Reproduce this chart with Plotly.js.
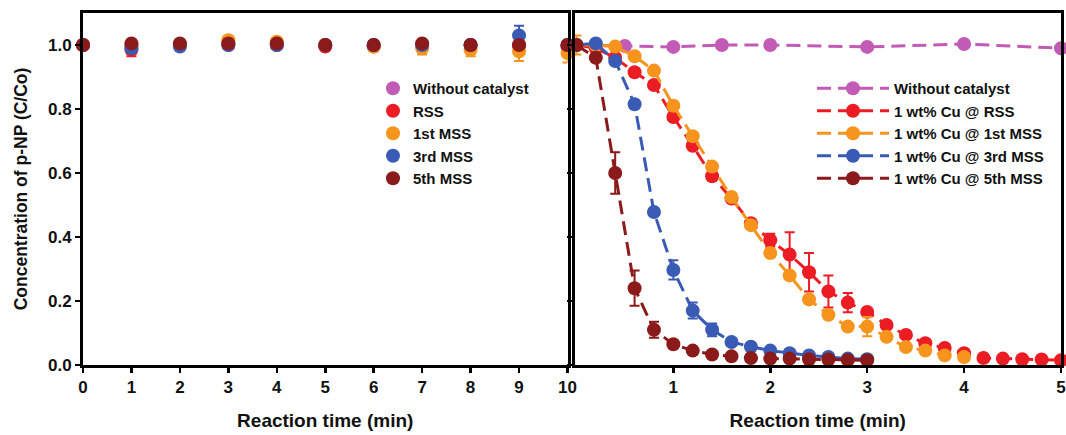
<!DOCTYPE html>
<html>
<head>
<meta charset="utf-8">
<script src="https://cdn.plot.ly/plotly-3.0.1.min.js"></script>
<style>html,body{margin:0;padding:0;background:#fff;}#chart{width:1066px;height:435px;}</style>
</head>
<body>
<div id="chart"></div>
<script>
// ---------- Left panel (supports only) ----------
const leftTime = [0, 1, 2, 3, 4, 5, 6, 7, 8, 9, 10];
const leftNames = ["Without catalyst", "RSS", "1st MSS", "3rd MSS", "5th MSS"];
const leftWithout = [1.0, 1.0, 1.0, 1.005, 1.0, 1.0, 1.0, 1.0, 1.0, 1.0, 1.0];
const leftWithoutErr = [0, 0.005, 0.005, 0.005, 0.005, 0.005, 0.005, 0.005, 0.005, 0.005, 0.005];
const leftRSS = [1.0, 0.985, 1.0, 1.0, 1.0, 0.995, 0.995, 1.0, 1.0, 1.0, 0.995];
const leftRSSErr = [0, 0.02, 0.01, 0.01, 0.01, 0.01, 0.01, 0.01, 0.01, 0.01, 0.01];
const left1st = [1.0, 1.0, 1.0, 1.015, 1.01, 1.0, 0.995, 0.99, 0.985, 0.98, 0.975];
const left1stErr = [0, 0.01, 0.01, 0.012, 0.012, 0.01, 0.01, 0.02, 0.02, 0.03, 0.03];
const left3rd = [1.0, 0.99, 0.995, 1.0, 1.0, 1.0, 1.0, 1.0, 1.0, 1.03, 1.0];
const left3rdErr = [0, 0.01, 0.01, 0.01, 0.01, 0.01, 0.01, 0.01, 0.01, 0.03, 0.01];
const left5th = [1.0, 1.005, 1.005, 1.005, 1.005, 1.0, 1.0, 1.005, 1.0, 1.0, 1.0];
const left5thErr = [0, 0.01, 0.01, 0.01, 0.01, 0.01, 0.01, 0.01, 0.01, 0.01, 0.01];

// ---------- Right panel (1 wt% Cu catalysts) ----------
const rightNames = ["Without catalyst", "1 wt% Cu @ RSS", "1 wt% Cu @ 1st MSS", "1 wt% Cu @ 3rd MSS", "1 wt% Cu @ 5th MSS"];
const noCatTime = [0, 0.5, 1, 1.5, 2, 3, 4, 5];
const noCatConc = [1.0, 0.997, 0.994, 1.0, 1.0, 0.994, 1.003, 0.99];

const rssTime = [0, 0.2, 0.4, 0.6, 0.8, 1.0, 1.2, 1.4, 1.6, 1.8, 2.0, 2.2, 2.4, 2.6, 2.8, 3.0, 3.2, 3.4, 3.6, 3.8, 4.0, 4.2, 4.4, 4.6, 4.8, 5.0];
const rssConc = [1.0, 0.99, 0.96, 0.915, 0.875, 0.775, 0.685, 0.59, 0.52, 0.443, 0.39, 0.345, 0.29, 0.23, 0.195, 0.166, 0.125, 0.094, 0.068, 0.053, 0.037, 0.022, 0.02, 0.018, 0.017, 0.015];
const rssErr = [0, 0.01, 0.01, 0.01, 0.01, 0.01, 0.01, 0.01, 0.01, 0.01, 0.02, 0.07, 0.06, 0.05, 0.03, 0.01, 0.01, 0.01, 0.01, 0.01, 0.01, 0.005, 0.005, 0.005, 0.005, 0.005];

const mss1Time = [0, 0.2, 0.4, 0.6, 0.8, 1.0, 1.2, 1.4, 1.6, 1.8, 2.0, 2.2, 2.4, 2.6, 2.8, 3.0, 3.2, 3.4, 3.6, 3.8, 4.0];
const mss1Conc = [1.0, 1.0, 0.995, 0.965, 0.92, 0.81, 0.715, 0.62, 0.525, 0.437, 0.35, 0.28, 0.205, 0.157, 0.12, 0.12, 0.088, 0.056, 0.045, 0.03, 0.025];
const mss1Err = [0.03, 0.01, 0.01, 0.01, 0.01, 0.01, 0.01, 0.01, 0.01, 0.01, 0.01, 0.01, 0.01, 0.01, 0.01, 0.03, 0.01, 0.01, 0.01, 0.01, 0.01];

const mss3Time = [0, 0.2, 0.4, 0.6, 0.8, 1.0, 1.2, 1.4, 1.6, 1.8, 2.0, 2.2, 2.4, 2.6, 2.8, 3.0];
const mss3Conc = [1.0, 1.005, 0.95, 0.815, 0.478, 0.297, 0.17, 0.11, 0.072, 0.057, 0.045, 0.037, 0.03, 0.025, 0.02, 0.018];
const mss3Err = [0, 0.01, 0.01, 0.01, 0.01, 0.03, 0.025, 0.02, 0.01, 0.01, 0.01, 0.005, 0.005, 0.005, 0.005, 0.005];

const mss5Time = [0, 0.2, 0.4, 0.6, 0.8, 1.0, 1.2, 1.4, 1.6, 1.8, 2.0, 2.2, 2.4, 2.6, 2.8, 3.0];
const mss5Conc = [1.0, 0.96, 0.6, 0.24, 0.11, 0.065, 0.045, 0.033, 0.027, 0.022, 0.02, 0.02, 0.018, 0.017, 0.016, 0.015];
const mss5Err = [0, 0.01, 0.065, 0.055, 0.025, 0.01, 0.005, 0.005, 0.005, 0.005, 0.005, 0.005, 0.005, 0.005, 0.005, 0.005];

const yTicks = [0, 0.2, 0.4, 0.6, 0.8, 1.0];
const leftXTicks = [0, 1, 2, 3, 4, 5, 6, 7, 8, 9, 10];
const rightXTicks = [1, 2, 3, 4, 5];

const colors = ["#C25BB5", "#EC1C24", "#F7941D", "#3A5BB5", "#8B1A1A"];
const FONT = "Liberation Sans, Arial, sans-serif";

function leftTrace(y, err, i) {
  return {
    x: leftTime, y: y, name: leftNames[i], type: "scatter", mode: "markers",
    xaxis: "x", yaxis: "y", legend: "legend",
    marker: {color: colors[i], size: 14},
    error_y: {type: "data", array: err, visible: true, color: colors[i], thickness: 2, width: 5},
    cliponaxis: false
  };
}
function rightTrace(x, y, err, i) {
  const t = {
    x: x, y: y, name: rightNames[i], type: "scatter", mode: "lines+markers",
    xaxis: "x2", yaxis: "y2", legend: "legend2",
    line: {color: colors[i], width: 3, dash: "14px,7px"},
    marker: {color: colors[i], size: 14},
    cliponaxis: false
  };
  if (err) t.error_y = {type: "data", array: err, visible: true, color: colors[i], thickness: 2, width: 5};
  return t;
}

const data = [
  leftTrace(leftWithout, leftWithoutErr, 0),
  leftTrace(leftRSS, leftRSSErr, 1),
  leftTrace(left1st, left1stErr, 2),
  leftTrace(left3rd, left3rdErr, 3),
  leftTrace(left5th, left5thErr, 4),
  rightTrace(noCatTime, noCatConc, null, 0),
  rightTrace(rssTime, rssConc, rssErr, 1),
  rightTrace(mss1Time, mss1Conc, mss1Err, 2),
  rightTrace(mss3Time, mss3Conc, mss3Err, 3),
  rightTrace(mss5Time, mss5Conc, mss5Err, 4)
];

const W = 1066;
const tickFont = {family: FONT, size: 17, color: "#111", weight: "bold"};
const titleFont = {family: FONT, size: 19, color: "#111", weight: "bold"};
const axisCommon = {
  showline: true, linecolor: "#000", linewidth: 3, mirror: true,
  ticks: "outside", ticklen: 5, tickwidth: 2.5, tickcolor: "#000",
  showgrid: false, zeroline: false, tickfont: tickFont
};

const layout = {
  width: 1066, height: 435,
  margin: {l: 0, r: 0, t: 13, b: 70},
  paper_bgcolor: "#fff", plot_bgcolor: "#fff",
  font: {family: FONT, color: "#111"},
  xaxis: Object.assign({}, axisCommon, {
    domain: [83 / W, 567.5 / W], range: [0, 10], tickvals: leftXTicks,
    title: {text: "Reaction time (min)", font: titleFont, standoff: 18}
  }),
  yaxis: Object.assign({}, axisCommon, {
    domain: [0, 1], range: [0, 1.1], tickvals: yTicks, tickformat: ".1f",
    title: {text: "Concentration of p-NP (C/Co)", font: {family: FONT, size: 17.5, color: "#111", weight: "bold"}, standoff: 16}
  }),
  xaxis2: Object.assign({}, axisCommon, {
    domain: [574.5 / W, 1061 / W], range: [-0.02, 5], tickvals: rightXTicks,
    anchor: "y2",
    title: {text: "Reaction time (min)", font: titleFont, standoff: 18}
  }),
  yaxis2: Object.assign({}, axisCommon, {
    domain: [0, 1], range: [0, 1.1], tickvals: yTicks, showticklabels: false,
    anchor: "x2"
  }),
  legend: {
    x: 373 / W, xanchor: "left", y: 1 - (72 - 13) / 352, yanchor: "top",
    bgcolor: "rgba(255,255,255,0)", borderwidth: 0,
    font: {family: FONT, size: 15, color: "#111", weight: "bold"},
    itemclick: false
  },
  legend2: {
    x: 812 / W, xanchor: "left", y: 1 - (72 - 13) / 352, yanchor: "top",
    bgcolor: "rgba(255,255,255,0)", borderwidth: 0, itemwidth: 72,
    font: {family: FONT, size: 15, color: "#111", weight: "bold"},
    itemclick: false
  },
  showlegend: true
};

Plotly.newPlot("chart", data, layout, {displayModeBar: false, staticPlot: true});
</script>
</body>
</html>
